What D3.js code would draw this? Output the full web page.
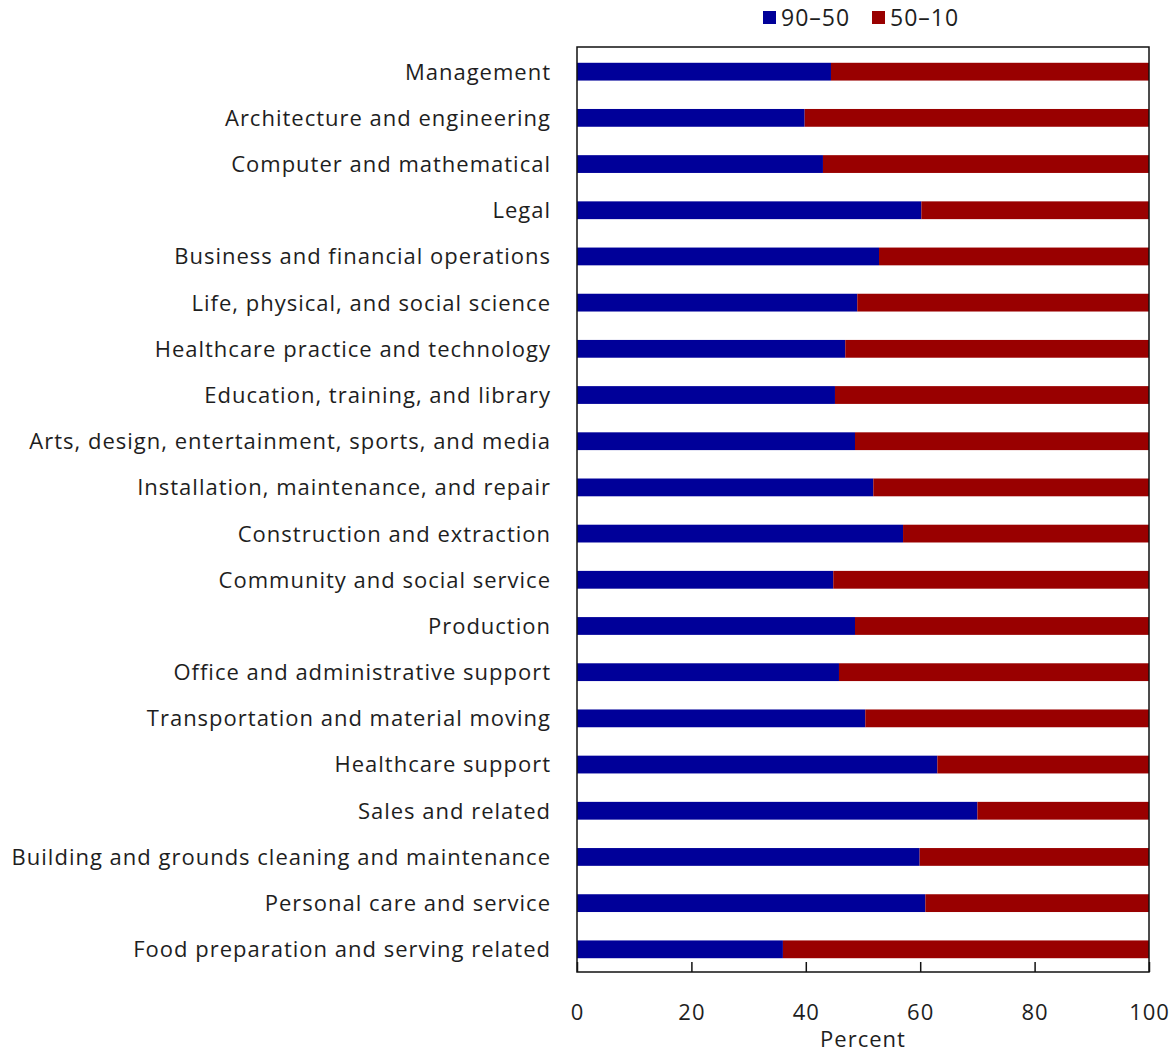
<!DOCTYPE html>
<html lang="en">
<head>
<meta charset="UTF-8">
<title>Wage gap shares by occupation</title>
<script src="https://d3js.org/d3.v7.min.js"></script>
<style>
  body { margin: 0; background: #fff; }
  text { font-family: "Open Sans", "Noto Sans", sans-serif; fill: #1e1e1e; letter-spacing: 1px; }
</style>
</head>
<body>
<script>
// occupations, top to bottom
const occupations = [
  "Management",
  "Architecture and engineering",
  "Computer and mathematical",
  "Legal",
  "Business and financial operations",
  "Life, physical, and social science",
  "Healthcare practice and technology",
  "Education, training, and library",
  "Arts, design, entertainment, sports, and media",
  "Installation, maintenance, and repair",
  "Construction and extraction",
  "Community and social service",
  "Production",
  "Office and administrative support",
  "Transportation and material moving",
  "Healthcare support",
  "Sales and related",
  "Building and grounds cleaning and maintenance",
  "Personal care and service",
  "Food preparation and serving related"
];
// share of the 90-10 gap coming from the 90-50 part (percent)
const gap9050 = [44.4, 39.8, 43.0, 60.2, 52.8, 49.0, 46.9, 45.1, 48.6, 51.8,
                 57.0, 44.8, 48.6, 45.8, 50.4, 63.0, 70.0, 59.9, 60.9, 36.0];
// the 50-10 part is the rest
const gap5010 = gap9050.map(v => 100 - v);
const seriesNames = ["90\u201350", "50\u201310"];
const seriesColors = ["#000099", "#990000"];
const xTicks = [0, 20, 40, 60, 80, 100];

const width = 1174, height = 1053;
const margin = {top: 47, right: 25, bottom: 81, left: 577};

const svg = d3.select("body").append("svg")
  .attr("width", width)
  .attr("height", height);

const x = d3.scaleLinear().domain([0, 100]).range([margin.left, width - margin.right]);
const y = d3.scaleBand().domain(occupations)
  .range([margin.top + 1, height - margin.bottom + 1])
  .paddingInner(0.615).paddingOuter(0.32);

const rows = occupations.map((name, i) => ({name, a: gap9050[i], b: gap5010[i]}));

// bars
const g = svg.append("g");
g.selectAll("rect.a").data(rows).join("rect")
  .attr("class", "a")
  .attr("x", x(0))
  .attr("y", d => y(d.name))
  .attr("width", d => x(d.a) - x(0))
  .attr("height", y.bandwidth())
  .attr("fill", seriesColors[0]);
g.selectAll("rect.b").data(rows).join("rect")
  .attr("class", "b")
  .attr("x", d => x(d.a))
  .attr("y", d => y(d.name))
  .attr("width", d => x(d.a + d.b) - x(d.a))
  .attr("height", y.bandwidth())
  .attr("fill", seriesColors[1]);

// category labels
svg.append("g").selectAll("text").data(occupations).join("text")
  .attr("x", margin.left - 26)
  .attr("y", d => y(d) + y.bandwidth() / 2)
  .attr("dy", "0.36em")
  .attr("text-anchor", "end")
  .style("font-size", "22px")
  .text(d => d);

// frame
svg.append("rect")
  .attr("x", margin.left)
  .attr("y", margin.top)
  .attr("width", width - margin.left - margin.right)
  .attr("height", height - margin.top - margin.bottom)
  .attr("fill", "none")
  .attr("stroke", "#111")
  .attr("stroke-width", 1.5);

// x axis: ticks pointing into the plot
const xAxis = svg.append("g")
  .attr("transform", `translate(0,${height - margin.bottom})`)
  .call(d3.axisBottom(x).tickValues(xTicks).tickSizeInner(-10).tickSizeOuter(0).tickPadding(32));
xAxis.select(".domain").remove();
xAxis.selectAll(".tick line").attr("stroke", "#111").attr("stroke-width", 1.5);
xAxis.selectAll(".tick text")
  .style("font-size", "22px")
  .style("font-family", "\"Open Sans\", sans-serif")
  .attr("fill", "#1e1e1e");

svg.append("text")
  .attr("x", (x(0) + x(100)) / 2)
  .attr("y", height - 6)
  .attr("text-anchor", "middle")
  .style("font-size", "22px")
  .text("Percent");

// legend
const legend = svg.append("g").attr("transform", "translate(763,11)");
const item = legend.selectAll("g").data(seriesNames).join("g")
  .attr("transform", (d, i) => `translate(${i * 109},0)`);
item.append("rect")
  .attr("width", 13).attr("height", 13)
  .attr("fill", (d, i) => seriesColors[i]);
item.append("text")
  .attr("x", 18).attr("y", 7).attr("dy", "0.36em")
  .style("font-size", "23px")
  .text(d => d);
</script>
</body>
</html>
